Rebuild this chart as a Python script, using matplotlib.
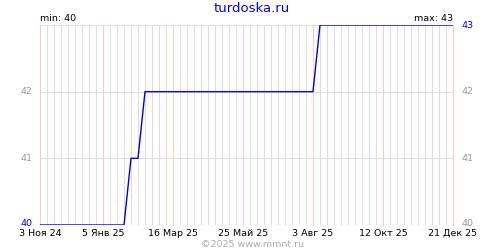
import numpy as np
import matplotlib
matplotlib.use('Agg')
import matplotlib.pyplot as plt
from datetime import date, timedelta

# Данные
dates = ['2024-11-03', '2025-01-26', '2025-02-02', '2025-02-09',
         '2025-02-16', '2025-08-03', '2025-08-10', '2025-12-21']
values = [40, 40, 41, 41, 42, 42, 43, 43]

tick_dates = ['2024-11-03', '2025-01-05', '2025-03-16', '2025-05-25',
              '2025-08-03', '2025-10-12', '2025-12-21']
tick_labels = ['3 Ноя 24', '5 Янв 25', '16 Мар 25', '25 Май 25',
               '3 Авг 25', '12 Окт 25', '21 Дек 25']
y_ticks = [40, 41, 42, 43]

start = date(2024, 11, 3)
end = date(2025, 12, 21)
x = [date.fromisoformat(d) for d in dates]
xt = [date.fromisoformat(d) for d in tick_dates]
vmin, vmax = min(values), max(values)

fig = plt.figure(figsize=(5, 2.5), dpi=100)
ax = fig.add_axes([0.08, 0.1, 0.826, 0.8])

px = 0.72  # 1 пиксель в пунктах
# недельная сетка (серые линии), красные — на подписанных датах
d = start
while d <= end:
    if d not in xt:
        ax.axvline(d, color='#dddddd', lw=px, zorder=1, antialiased=False)
    d += timedelta(days=7)
for yv in y_ticks:
    ax.axhline(yv, color='#dddddd', lw=px, zorder=1, antialiased=False)
for t in xt:
    ax.axvline(t, color='#ffc8c8', lw=px, zorder=2, antialiased=False,
               clip_on=False)

ax.plot(x, values, color='#0000ee', lw=1, zorder=3)

ax.set_xlim(start, end)
ax.set_ylim(40, 43)
for s in ax.spines.values():
    s.set_visible(False)
ax.set_xticks([])
ax.set_yticks([])

fs = 6.8
for t, lab in zip(xt, tick_labels):
    ax.text(t, -0.02, lab, transform=ax.get_xaxis_transform(),
            ha='center', va='top', fontsize=fs, color='black')
for yv in y_ticks:
    dy = 0.03 if yv == 40 else 0
    if yv != vmax:
        c = 'blue' if yv == vmin else '#999999'
        ax.text(-0.018, yv + dy, str(yv), transform=ax.get_yaxis_transform(),
                ha='right', va='center', fontsize=fs, color=c)
    c = 'blue' if yv == vmax else '#999999'
    ax.text(1.02, yv + dy, str(yv), transform=ax.get_yaxis_transform(),
            ha='left', va='center', fontsize=fs, color=c)

ax.text(0.0, 1.01, 'min: %d' % vmin, transform=ax.transAxes,
        ha='left', va='bottom', fontsize=fs, color='black')
ax.text(1.0, 1.01, 'max: %d' % vmax, transform=ax.transAxes,
        ha='right', va='bottom', fontsize=fs, color='black')

fig.text(0.504, 0.965, 'turdoska.ru', ha='center', va='center',
         fontsize=9.5, color='blue')
fig.text(0.506, 0.022, '©2025 www.mmnt.ru', ha='center', va='center',
         fontsize=fs, color='#aaaaaa')

fig.savefig('out.png', dpi=100)
